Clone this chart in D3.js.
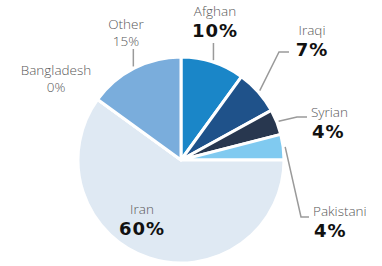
<!DOCTYPE html>
<html>
<head>
<meta charset="utf-8">
<script src="https://cdn.jsdelivr.net/npm/d3@7"></script>
<style>
  body { margin: 0; background: #fff; }
  .name { font-family: "Open Sans", sans-serif; font-weight: 300; font-size: 13.5px; fill: #585858; }
  .pct { font-family: "DejaVu Sans", Verdana, sans-serif; font-weight: bold; font-size: 18px; letter-spacing: 1px; fill: #111; }
  .pct.light { font-family: "Open Sans", sans-serif; font-weight: 300; font-size: 13.5px; letter-spacing: 0; fill: #585858; }
</style>
</head>
<body>
<div id="chart"></div>
<script>
var categories = ["Afghan", "Iraqi", "Syrian", "Pakistani", "Iran", "Bangladesh", "Other"];
var values = [10, 7, 4, 4, 60, 0, 15];
var colors = ["#1a86c8", "#1f528a", "#28374f", "#80caf0", "#dfe9f3", "#dfe9f3", "#7aaddc"];

var svgWidth = 382;
var svgHeight = 266;
var cx = 181, cy = 160;
var radius = 103;

// label placement: anchor x, name baseline y, leader elbow points
var labelPos = {
	"Afghan":     {x: 215, y: 16, anchor: "middle", bold: true, leader: [[0, 43]]},
	"Iraqi":      {x: 312, y: 35, anchor: "middle", bold: true, leader: [[279, 52], [289, 52]]},
	"Syrian":     {x: 311, y: 117, anchor: "start", bold: true, leader: [[297, 117], [307, 117]]},
	"Pakistani":  {x: 313, y: 216, anchor: "start", bold: true, leader: [[301, 217], [309, 217]]},
	"Iran":       {x: 142, y: 214, anchor: "middle", bold: true, leader: null},
	"Bangladesh": {x: 56, y: 75, anchor: "middle", bold: false, leader: null},
	"Other":      {x: 126, y: 29, anchor: "middle", bold: false, leader: [[0, 49]]}
};

var data = categories.map(function(c, i){ return {name: c, value: values[i]}; });

var color = d3.scaleOrdinal()
	.domain(categories)
	.range(colors);

var svg = d3.select("#chart")
	.append("svg")
	.attr("width", svgWidth)
	.attr("height", svgHeight);

var g = svg.append("g")
	.attr("transform", "translate(" + [cx, cy] + ")");

var pie = d3.pie()
	.value(function(d){ return d.value; })
	.sort(null);

var arc = d3.arc()
	.innerRadius(0)
	.outerRadius(radius);

var outerArc = d3.arc()
	.innerRadius(radius + 2)
	.outerRadius(radius + 2);

var arcs = pie(data);

g.selectAll("path.slice")
	.data(arcs)
	.enter()
	.append("path")
	.attr("class", "slice")
	.attr("d", arc)
	.attr("fill", function(d){ return color(d.data.name); })
	.attr("stroke", "#fff")
	.attr("stroke-width", 3)
	.attr("stroke-linejoin", "round");

// leader lines
svg.selectAll("polyline.leader")
	.data(arcs.filter(function(d){ return labelPos[d.data.name].leader; }))
	.enter()
	.append("polyline")
	.attr("class", "leader")
	.attr("fill", "none")
	.attr("stroke", "#9a9a9a")
	.attr("stroke-width", 1.5)
	.attr("points", function(d){
		var c = outerArc.centroid(d);
		var start = [cx + c[0], cy + c[1]];
		var pts = [start];
		labelPos[d.data.name].leader.forEach(function(p){
			// 0 on x means keep the start x (vertical line)
			pts.push([p[0] === 0 ? start[0] : p[0], p[1]]);
		});
		return pts.map(function(p){ return p.join(","); }).join(" ");
	});

// labels
var labels = svg.selectAll("g.label")
	.data(arcs)
	.enter()
	.append("g")
	.attr("class", "label");

labels.append("text")
	.attr("class", "name")
	.attr("x", function(d){ return labelPos[d.data.name].x; })
	.attr("y", function(d){ return labelPos[d.data.name].y; })
	.attr("text-anchor", function(d){ return labelPos[d.data.name].anchor; })
	.text(function(d){ return d.data.name; });

labels.append("text")
	.attr("class", function(d){ return labelPos[d.data.name].bold ? "pct" : "pct light"; })
	.attr("x", function(d){
		var p = labelPos[d.data.name];
		return p.anchor === "start" ? p.x + 1 : p.x;
	})
	.attr("y", function(d){
		var p = labelPos[d.data.name];
		return p.y + (p.bold ? 21 : 17);
	})
	.attr("text-anchor", function(d){ return labelPos[d.data.name].anchor; })
	.text(function(d){ return d.data.value + "%"; });
</script>
</body>
</html>
